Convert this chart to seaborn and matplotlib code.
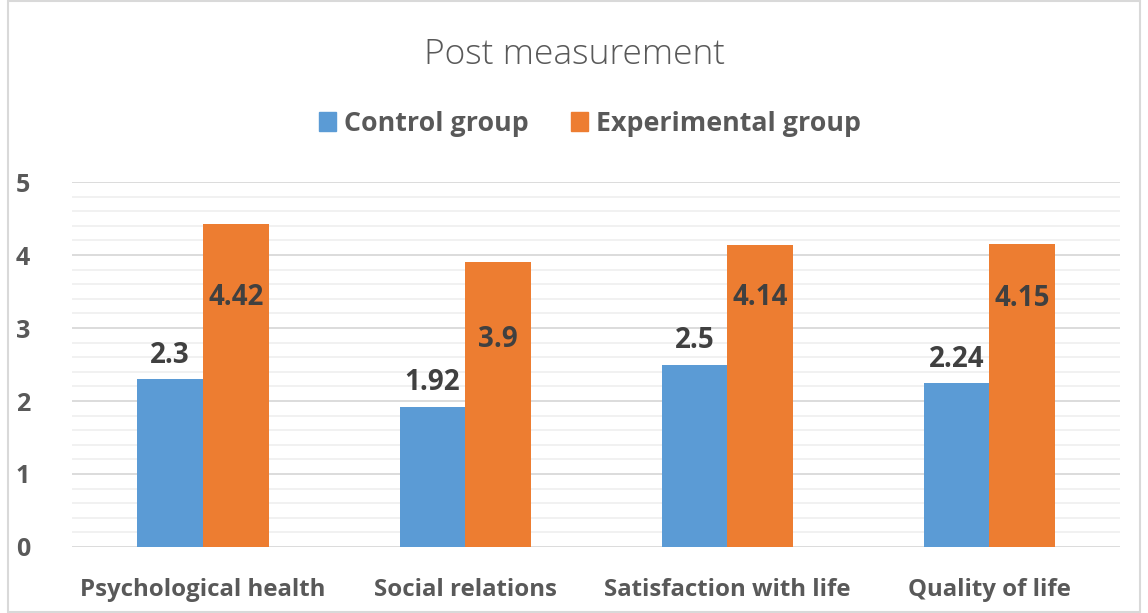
import numpy as np
import pandas as pd
import matplotlib.pyplot as plt
import seaborn as sns
from matplotlib.patches import Rectangle

categories = ["Psychological health", "Social relations", "Satisfaction with life", "Quality of life"]
groups = ["Control group", "Experimental group"]
control = [2.3, 1.92, 2.5, 2.24]
experimental = [4.42, 3.9, 4.14, 4.15]
colors = ["#5b9bd5", "#ed7d31"]

df = pd.DataFrame({
    "category": categories * 2,
    "group": [groups[0]] * 4 + [groups[1]] * 4,
    "value": control + experimental,
})

sns.set_style("white")
plt.rcParams["font.family"] = ["Open Sans", "DejaVu Sans"]

fig = plt.figure(figsize=(11.48, 6.13), dpi=100)
ax = fig.add_axes([0.0627, 0.1077, 0.913, 0.5953])

sns.barplot(data=df, x="category", y="value", hue="group", order=categories,
            hue_order=groups, palette=colors, width=0.5, saturation=1,
            errorbar=None, ax=ax, legend=False, linewidth=0)

ax.set_ylim(0, 5)
ax.set_xlim(-0.5, 3.5)
ax.set_yticks(range(6))
ax.set_yticks(np.arange(0, 5.01, 0.2), minor=True)
ax.grid(axis="y", which="major", color="#d9d9d9", lw=1.3, zorder=0)
ax.grid(axis="y", which="minor", color="#f0f0f0", lw=1.3, zorder=0)
ax.set_axisbelow(True)
for s in ax.spines.values():
    s.set_visible(False)
ax.tick_params(axis="x", length=0, labelsize=17.3, labelcolor="#595959", pad=22)
ax.tick_params(axis="y", length=0, labelsize=18, labelcolor="#595959", pad=30)
for t in ax.get_xticklabels() + ax.get_yticklabels():
    t.set_fontweight("bold")
ax.set_xlabel("")
ax.set_ylabel("")

# value labels: control above the bar, experimental inside near the top
exp_dy = [-73, -77, -53, -54]
for i, c in enumerate(categories):
    ax.annotate(f"{control[i]:g}", (i - 0.125, control[i]), xytext=(0, 24),
                textcoords="offset pixels", ha="center", va="center",
                fontsize=20, fontweight="bold", color="#404040")
    ax.annotate(f"{experimental[i]:g}", (i + 0.125, experimental[i]), xytext=(0, exp_dy[i]),
                textcoords="offset pixels", ha="center", va="center",
                fontsize=20, fontweight="bold", color="#404040")

fig.text(0.5, 1 - 55 / 613, "Post measurement", ha="center", va="center",
         fontsize=25.5, fontweight="light", color="#595959")

handles = [Rectangle((0, 0), 1, 1, color=c) for c in colors]
leg = fig.legend(handles, groups, loc="center", bbox_to_anchor=(0.5 + 16 / 1148, 1 - 124 / 613),
                 ncol=2, frameon=False, handlelength=0.63, handleheight=0.7,
                 handletextpad=0.3, columnspacing=1.55,
                 prop={"size": 19.3, "weight": "bold"})
for t in leg.get_texts():
    t.set_color("#595959")

fig.patches.append(Rectangle((8 / 1148, 0.002), 1 - 16 / 1148, 0.996, transform=fig.transFigure,
                             fill=False, edgecolor="#d9d9d9", lw=1.5))

fig.savefig("out.png", dpi=100, facecolor="white")
